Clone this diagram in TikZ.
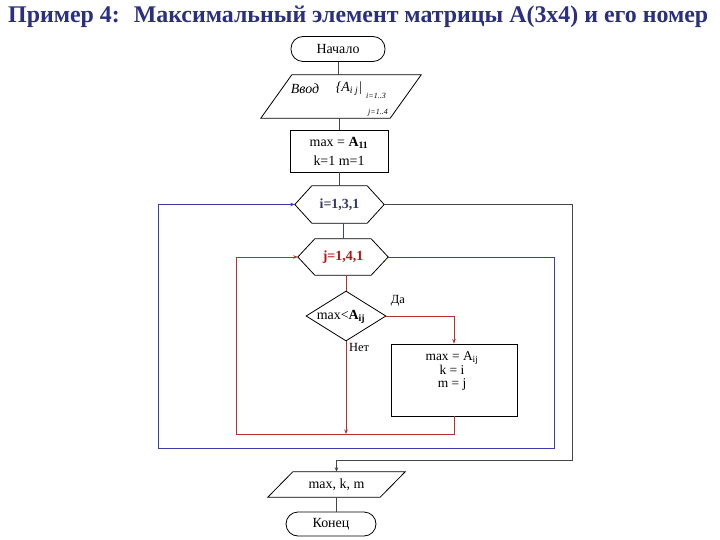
\documentclass[tikz,border=0pt]{standalone}
\usepackage{fontspec}
\usepackage{graphicx}
\setmainfont{Liberation Serif}
\usetikzlibrary{arrows.meta,calc,shapes.geometric}
\definecolor{ttl}{RGB}{43,47,127}
\definecolor{lnblue}{RGB}{60,60,170}
\definecolor{lnred}{RGB}{185,45,45}
\definecolor{lngray}{RGB}{70,70,70}
\definecolor{itext}{RGB}{55,55,100}
\definecolor{jtext}{RGB}{180,20,20}
\newcommand\hexout[2]{\draw[shapeline] (#1.west) -- ([xshift=#2]#1.north west) -- ([xshift=-#2]#1.north east) -- (#1.east) -- ([xshift=-#2]#1.south east) -- ([xshift=#2]#1.south west) -- cycle;}
\newcommand\paraout[2]{\draw[shapeline] ([xshift=#2]#1.north west) -- (#1.north east) -- ([xshift=-#2]#1.south east) -- (#1.south west) -- cycle;}
\begin{document}
\begin{tikzpicture}[x=1bp,y=-1bp,
  every node/.style={font=\fontsize{14}{16}\selectfont, inner sep=0pt},
  shapeline/.style={draw=black, line width=0.8bp},
  termbox/.style={draw=black, line width=0.8bp, rounded corners=12bp, minimum height=25bp},
  plainbox/.style={draw=black, line width=0.8bp},
  hidden/.style={draw=none},
  glink/.style={draw=lngray, line width=0.9bp},
  blink/.style={draw=lnblue, line width=0.9bp},
  rlink/.style={draw=lnred, line width=0.9bp},
  tip/.style={-{Stealth[length=4.5bp,width=3.5bp]}},
  small/.style={font=\fontsize{12.5}{14}\selectfont}
]
\useasboundingbox (0,0) rectangle (720,540);
\fill[white] (0,0) rectangle (720,540);

% title
\node[anchor=base west, font=\fontsize{24}{28}\selectfont\bfseries, text=ttl] (title) at (8,22.5)
  {\resizebox{700bp}{\height}{Пример 4:~ Максимальный элемент матрицы А(3х4) и его номер}};

% nodes
\node[termbox, minimum width=94bp] (start) at (338,49) {Начало};

\node[hidden, minimum width=160bp, minimum height=43bp] (in) at (341,96.5) {};
\paraout{in}{31bp}
\node (inw) at (305,89) {\textit{Ввод}};
\node (ina) at (349,89) {\textit{\{A}\textsubscript{\textit{i j}}\textit{|}};
\node[font=\fontsize{8}{9}\selectfont\itshape] (ini) at (376,96) {i=1..3};
\node[font=\fontsize{8}{9}\selectfont\itshape] (inj) at (378,113) {j=1..4};

\node[plainbox, minimum width=98bp, minimum height=42bp, align=center,
      font=\fontsize{14}{19}\selectfont] (init) at (339,151)
  {max = \textbf{A}\textsubscript{\textbf{11}}\\k=1 m=1};

\node[hidden, minimum width=89bp, minimum height=37bp, font=\fontsize{14}{16}\selectfont\bfseries, text=itext] (hexi) at (339.5,204.5) {i=1,3,1};
\hexout{hexi}{17bp}

\node[hidden, minimum width=90bp, minimum height=36bp, font=\fontsize{14}{16}\selectfont\bfseries, text=jtext] (hexj) at (343,257) {j=1,4,1};
\hexout{hexj}{17bp}

\node[diamond, shapeline, minimum width=80bp, minimum height=50bp, inner sep=0pt] (dia) at (346,316) {};
\node (diat) at (341,317) {max<\textbf{A}\textsubscript{\textbf{ij}}};
\node[small] (yes) at (398,301) {Да};
\node[small] (no) at (359,347) {Нет};

\node[plainbox, minimum width=126bp, minimum height=72bp] (act) at (454,380) {};
\node[align=center, font=\fontsize{13.5}{14}\selectfont] (actt) at (452,371) {max = A\textsubscript{ij}\\k = i\\m = j};

\node[hidden, minimum width=137bp, minimum height=25bp] (out) at (336.5,484.5) {max, k, m};
\paraout{out}{25bp}

\node[termbox, minimum width=90bp, minimum height=24bp] (end) at (331,524) {Конец};

% helper coordinates
\coordinate (gr) at (572,460);
\coordinate (br) at (554,448);
\coordinate (bl) at (158,448);
\coordinate (rl) at (236,434);

% connectors
\draw[glink] (start.south) -- (start.south |- in.north);
\draw[glink] (init.north |- in.south) -- (init.north);
\draw[glink] (init.south) -- (hexi.north -| init.south);
\draw[blink] (hexj.north |- hexi.south) -- (hexj.north);
\draw[rlink] (dia.north |- hexj.south) -- (dia.north);
\draw[rlink, tip] (dia.east) -| (act.north);
\draw[rlink, tip] (dia.south) -- (dia.south |- rl);
\draw[rlink, tip] (act.south) |- (rl) |- (hexj.west);
\draw[blink, tip] (hexj.east) -| (br) -- (bl) |- (hexi.west);
\draw[glink, tip] (hexi.east) -| (gr) -| (out.north);
\draw[glink] (out.south) -- (out.south |- end.north);
\end{tikzpicture}
\end{document}
